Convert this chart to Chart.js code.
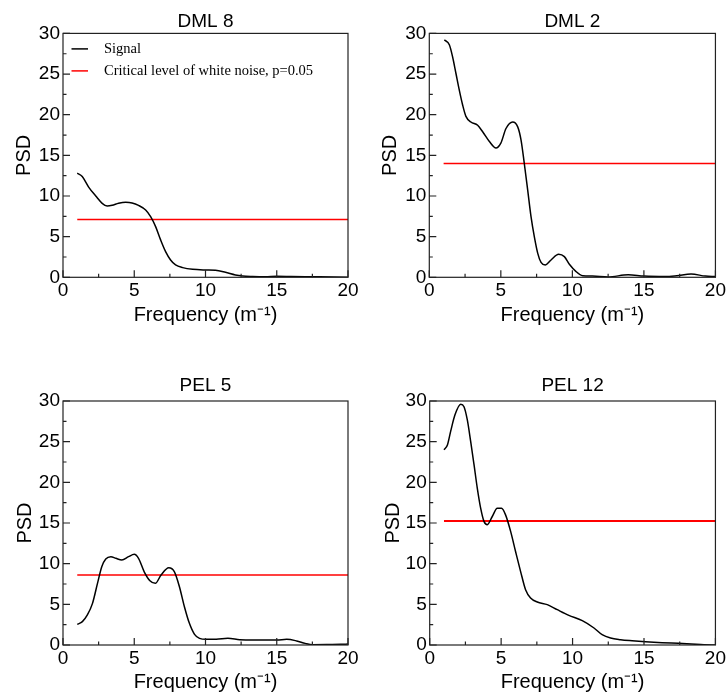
<!DOCTYPE html>
<html>
<head>
<meta charset="utf-8">
<script src="https://cdn.jsdelivr.net/npm/chart.js@4.4.1/dist/chart.umd.min.js"></script>
<style>
  body { margin: 0; background: #fff; }
  #wrap { position: relative; width: 728px; height: 696px; }
  canvas { position: absolute; }
</style>
</head>
<body>
<div id="wrap">
  <canvas id="c1" width="364" height="340" style="left:0;top:0"></canvas>
  <canvas id="c2" width="364" height="340" style="left:364px;top:0"></canvas>
  <canvas id="c3" width="364" height="356" style="left:0;top:340px"></canvas>
  <canvas id="c4" width="364" height="356" style="left:364px;top:340px"></canvas>
</div>
<script>
// DATA
const xTicks = [0, 5, 10, 15, 20];
const xMinor = [2.5, 7.5, 12.5, 17.5];
const yTicks = [0, 5, 10, 15, 20, 25, 30];
const yMinor = [2.5, 7.5, 12.5, 17.5, 22.5, 27.5];

const freqDML8 = [1, 1.35, 1.8, 2.3, 2.75, 3.1, 3.45, 3.9, 4.4, 4.85, 5.3, 5.8, 6.15, 6.5, 6.85, 7.2, 7.55, 7.9, 8.4, 9.1, 10.0, 10.7, 11.4, 12.1, 12.6, 13.3, 14.2, 15.0, 16.0, 17.0, 18.0, 19.0, 20.0];
const psdDML8 = [12.8, 12.4, 11.1, 10.0, 9.1, 8.77, 8.85, 9.1, 9.22, 9.14, 8.85, 8.28, 7.46, 6.23, 4.6, 3.16, 2.13, 1.52, 1.19, 0.98, 0.9, 0.86, 0.61, 0.29, 0.16, 0.1, 0.07, 0.12, 0.1, 0.08, 0.06, 0.04, 0.02];

const freqDML2 = [1.05, 1.4, 1.63, 1.86, 2.1, 2.33, 2.56, 2.91, 3.38, 3.73, 4.2, 4.66, 5.0, 5.36, 5.83, 6.18, 6.41, 6.64, 6.88, 7.11, 7.34, 7.58, 7.81, 8.11, 8.51, 9.04, 9.44, 9.79, 10.26, 10.72, 11.4, 12.5, 13.9, 15.0, 16.5, 17.3, 18.3, 19.3, 20];
const psdDML2 = [29.2, 28.6, 27.1, 25.1, 23.0, 21.2, 19.8, 19.1, 18.7, 17.9, 16.7, 15.9, 16.5, 18.3, 19.1, 18.5, 16.9, 14.0, 10.7, 7.46, 5.0, 2.95, 1.84, 1.52, 2.13, 2.83, 2.54, 1.6, 0.7, 0.2, 0.15, 0.05, 0.3, 0.15, 0.1, 0.2, 0.4, 0.15, 0.1];

const freqPEL5 = [1.0, 1.36, 1.71, 2.07, 2.42, 2.72, 3.0, 3.36, 3.71, 4.13, 4.6, 5.0, 5.3, 5.7, 6.1, 6.48, 6.88, 7.42, 7.82, 8.17, 8.52, 8.87, 9.23, 9.58, 10.05, 10.75, 11.57, 12.4, 13.3, 15.0, 15.7, 16.4, 17.0, 17.5, 18.5, 19.5, 20];
const psdPEL5 = [2.54, 2.87, 3.69, 5.12, 7.58, 9.63, 10.57, 10.86, 10.66, 10.45, 10.86, 11.15, 10.66, 9.0, 7.9, 7.58, 8.6, 9.5, 9.0, 7.17, 4.71, 2.66, 1.31, 0.82, 0.7, 0.7, 0.82, 0.66, 0.61, 0.61, 0.7, 0.5, 0.2, 0.04, 0.05, 0.08, 0.12];

const freqPEL12 = [1.0, 1.24, 1.47, 1.77, 2.17, 2.4, 2.63, 2.87, 3.1, 3.33, 3.57, 3.8, 4.03, 4.38, 4.73, 5.03, 5.31, 5.66, 6.01, 6.36, 6.71, 7.06, 7.53, 8.23, 8.93, 9.74, 10.68, 11.5, 12.07, 12.66, 13.36, 14.17, 15.1, 16.27, 17.4, 18.3, 19.2, 20];
const psdPEL12 = [24.0, 24.6, 26.3, 28.3, 29.6, 29.3, 27.7, 25.0, 22.2, 19.3, 16.8, 15.2, 14.8, 15.8, 16.8, 16.8, 16.0, 14.0, 11.5, 9.06, 6.8, 5.78, 5.29, 4.96, 4.34, 3.65, 2.99, 2.09, 1.27, 0.86, 0.66, 0.53, 0.41, 0.29, 0.2, 0.12, 0.03, 0.0];

// critical level of white noise, p=0.05, drawn from freq 1 to 20
const critRange = [1, 20];
const critDML8 = 7.1;
const critDML2 = 14.0;
const critPEL5 = 8.6;
const critPEL12 = 15.25;

const SANS = "'Liberation Sans', Arial, sans-serif";
const SERIF = "'Liberation Serif', 'Times New Roman', serif";

// frame + inward ticks
const frameTicks = {
    id: 'frameTicks',
    afterDraw(chart) {
        const { ctx, chartArea: a, scales: { x, y } } = chart;
        ctx.save();
        ctx.strokeStyle = '#222';
        ctx.lineWidth = 1.2;
        ctx.beginPath();
        xTicks.forEach(v => { const p = x.getPixelForValue(v); ctx.moveTo(p, a.bottom); ctx.lineTo(p, a.bottom - 7); });
        xMinor.forEach(v => { const p = x.getPixelForValue(v); ctx.moveTo(p, a.bottom); ctx.lineTo(p, a.bottom - 3.5); });
        yTicks.forEach(v => { const p = y.getPixelForValue(v); ctx.moveTo(a.left, p); ctx.lineTo(a.left + 7, p); });
        yMinor.forEach(v => { const p = y.getPixelForValue(v); ctx.moveTo(a.left, p); ctx.lineTo(a.left + 3.5, p); });
        ctx.stroke();
        ctx.strokeRect(a.left, a.top, a.right - a.left, a.bottom - a.top);
        ctx.restore();
    }
};

// legend inside the plot, top-left (only used on the first panel)
const innerLegend = {
    id: 'innerLegend',
    afterDraw(chart, args, opts) {
        if (!opts.show) return;
        const { ctx, chartArea: a } = chart;
        ctx.save();
        ctx.font = '14.5px ' + SERIF;
        ctx.textBaseline = 'middle';
        ctx.fillStyle = '#000';
        chart.data.datasets.forEach((ds, i) => {
            const yy = a.top + 15.5 + i * 22;
            ctx.strokeStyle = ds.borderColor;
            ctx.lineWidth = 1.5;
            ctx.beginPath();
            ctx.moveTo(a.left + 8.5, yy);
            ctx.lineTo(a.left + 25, yy);
            ctx.stroke();
            ctx.fillText(ds.label, a.left + 41, yy);
        });
        ctx.restore();
    }
};

function makePanel(id, name, freq, psd, crit, g) {
    const signal = freq.map((f, i) => ({ x: f, y: psd[i] }));
    const critLine = critRange.map(f => ({ x: f, y: crit }));
    new Chart(document.getElementById(id), {
        type: 'line',
        data: {
            datasets: [
                { label: 'Signal', data: signal, borderColor: '#000', borderWidth: 1.5, pointRadius: 0, cubicInterpolationMode: 'monotone', fill: false },
                { label: 'Critical level of white noise, p=0.05', data: critLine, borderColor: '#ff0000', borderWidth: g.critW || 1.5, pointRadius: 0, fill: false }
            ]
        },
        plugins: [frameTicks, innerLegend],
        options: {
            responsive: false,
            animation: false,
            devicePixelRatio: 1,
            layout: { padding: { left: 4, top: 4, right: g.right, bottom: g.bottom } },
            plugins: {
                title: { display: true, text: name, fullSize: false, color: '#000', font: { family: SANS, size: 19, weight: 'normal' }, padding: { top: g.titleTop, bottom: g.titleBottom } },
                legend: { display: false },
                innerLegend: { show: !!g.legend },
                tooltip: { enabled: false }
            },
            scales: {
                x: {
                    type: 'linear', min: 0, max: 20,
                    afterBuildTicks: s => { s.ticks = xTicks.map(v => ({ value: v })); },
                    afterFit: s => { s.height = g.xH; },
                    grid: { display: false, drawTicks: false },
                    border: { display: false },
                    ticks: { padding: 2, color: '#000', font: { family: SANS, size: 19 } },
                    title: { display: true, text: 'Frequency (m\u207B\u00B9)', color: '#000', font: { family: SANS, size: 20 }, padding: { top: 0, bottom: 0 } }
                },
                y: {
                    min: 0, max: 30,
                    afterBuildTicks: s => { s.ticks = yTicks.map(v => ({ value: v })); },
                    afterFit: s => { s.width = g.yW; },
                    grid: { display: false, drawTicks: false },
                    border: { display: false },
                    ticks: { padding: 3, color: '#000', font: { family: SANS, size: 19 } },
                    title: { display: true, text: 'PSD', color: '#000', font: { family: SANS, size: 20 }, padding: { top: g.yTitle, bottom: 0 } }
                }
            }
        }
    });
}

makePanel('c1', 'DML 8', freqDML8, psdDML8, critDML8, { right: 16, bottom: 12.2, titleTop: 6.6, titleBottom: 0, xH: 50.5, yW: 59, yTitle: 8, legend: true });
makePanel('c2', 'DML 2', freqDML2, psdDML2, critDML2, { right: 12.3, bottom: 12.2, titleTop: 6.6, titleBottom: 0, xH: 50.5, yW: 61.3, yTitle: 10 });
makePanel('c3', 'PEL 5', freqPEL5, psdPEL5, critPEL5, { right: 16, bottom: 2, titleTop: 30.6, titleBottom: 3.6, xH: 49, yW: 59, yTitle: 9 });
makePanel('c4', 'PEL 12', freqPEL12, psdPEL12, critPEL12, { right: 12.3, bottom: 2, titleTop: 30.6, titleBottom: 3.6, xH: 49, yW: 61.7, yTitle: 13, critW: 2 });
</script>
</body>
</html>
